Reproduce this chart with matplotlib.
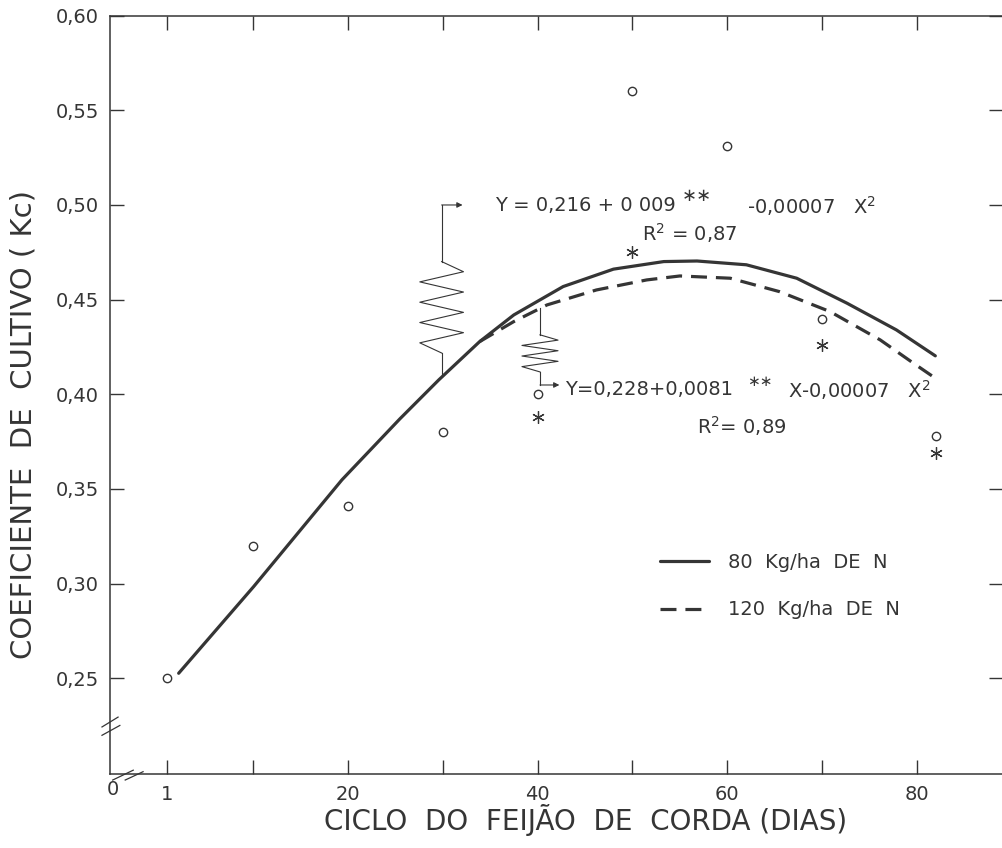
import numpy as np
import matplotlib.pyplot as plt

plt.rcParams['font.family'] = ['DejaVu Sans']
plt.rcParams['mathtext.fontset'] = 'dejavusans'

# pontos observados (dias, Kc)
dias_80 = [1, 10, 20, 30, 40, 50, 60, 70, 82]
kc_80 = [0.250, 0.320, 0.341, 0.380, 0.400, 0.560, 0.531, 0.440, 0.378]
dias_120 = [40, 50, 70, 82]
kc_120 = [0.388, 0.475, 0.426, 0.369]

# curvas ajustadas
curva_80_x = [2.2, 10.1, 19.4, 25.5, 29.6, 33.9, 37.5, 42.7, 48.0, 53.3, 56.8, 62.0, 67.3, 72.6, 77.8, 81.9]
curva_80_y = [0.2526, 0.2984, 0.3548, 0.3870, 0.4076, 0.4278, 0.4419, 0.4569, 0.4661, 0.4701, 0.4704,
              0.4684, 0.4613, 0.4481, 0.4340, 0.4203]
curva_120_x = [33.9, 37.5, 41.0, 46.2, 51.5, 55.0, 60.3, 65.5, 70.8, 76.1, 79.6, 81.9]
curva_120_y = [0.4278, 0.4384, 0.4472, 0.4551, 0.4604, 0.4625, 0.4613, 0.4542, 0.4437, 0.4287, 0.4164, 0.4085]

xticks = [1, 10, 20, 30, 40, 50, 60, 70, 80]
xticklabels = ['1', '', '20', '', '40', '', '60', '', '80']
yticks = [0.25, 0.30, 0.35, 0.40, 0.45, 0.50, 0.55, 0.60]
yticklabels = ['0,25', '0,30', '0,35', '0,40', '0,45', '0,50', '0,55', '0,60']

ink = '#353535'

fig = plt.figure(figsize=(10.03, 8.48), dpi=100)
ax = fig.add_axes([0.1097, 0.0873, 0.8903, 0.8942])
ax.set_xlim(-5.03, 89.03)
ax.set_ylim(0.1994, 0.60)

# curvas
ax.plot(curva_80_x, curva_80_y, color=ink, lw=2.3, solid_capstyle='round', label='80  Kg/ha  DE  N')
ax.plot(curva_120_x, curva_120_y, color=ink, lw=2.3, linestyle=(0, (5, 2.8)), label='120  Kg/ha  DE  N')

# pontos
ax.plot(dias_80, kc_80, 'o', ms=6, mfc='none', mec=ink, mew=1.0, zorder=3)
ax.plot(dias_120, kc_120, linestyle='none', marker=(6, 2, 0), ms=9, mec=ink, mew=0.9, zorder=3)

# molas (chaves) ligando equacoes as curvas
def mola(xc, y_top, y_bot, half_w, n):
    ys = np.linspace(y_top, y_bot, 2 * n + 2)
    xs = [xc]
    for i in range(2 * n):
        xs.append(xc + half_w if i % 2 == 0 else xc - half_w)
    xs.append(xc)
    ax.plot(xs, ys, color=ink, lw=0.8)

# mola 1 (80 kg)
ax.plot([29.9, 29.9], [0.500, 0.4701], color=ink, lw=0.8)
mola(29.9, 0.4701, 0.4218, 2.3, 4)
ax.plot([29.9, 29.9], [0.4218, 0.4095], color=ink, lw=0.8)
ax.annotate('', xy=(32.1, 0.500), xytext=(29.9, 0.500),
            arrowprops=dict(arrowstyle='-|>', color=ink, lw=0.8, mutation_scale=8, shrinkA=0, shrinkB=0))

# mola 2 (120 kg)
ax.plot([40.26, 40.26], [0.4455, 0.4314], color=ink, lw=0.8)
mola(40.26, 0.4314, 0.4118, 1.9, 3)
ax.plot([40.26, 40.26], [0.4118, 0.4049], color=ink, lw=0.8)
ax.annotate('', xy=(42.3, 0.4049), xytext=(40.26, 0.4049),
            arrowprops=dict(arrowstyle='-|>', color=ink, lw=0.8, mutation_scale=8, shrinkA=0, shrinkB=0))

# equacoes
fs = 14
ax.text(35.5, 0.4995, 'Y = 0,216 + 0 009', fontsize=fs, color=ink, va='center')
ax.text(55.2, 0.5048, '∗∗', fontsize=13, color=ink, va='center')
ax.text(62.1, 0.4995, '-0,00007   X$^{2}$', fontsize=fs, color=ink, va='center')
ax.text(51.0, 0.4852, 'R$^{2}$ = 0,87', fontsize=fs, color=ink, va='center')

ax.text(42.9, 0.4023, 'Y=0,228+0,0081', fontsize=fs, color=ink, va='center')
ax.text(62.1, 0.4068, '∗∗', fontsize=11, color=ink, va='center')
ax.text(66.4, 0.4023, 'X-0,00007   X$^{2}$', fontsize=fs, color=ink, va='center')
ax.text(56.8, 0.3833, 'R$^{2}$= 0,89', fontsize=fs, color=ink, va='center')

# legenda
leg = ax.legend(loc='center left', bbox_to_anchor=(0.605, 0.2475), frameon=False, fontsize=fs,
                handlelength=2.5, handletextpad=1.0, labelspacing=1.45, borderpad=0)
for t in leg.get_texts():
    t.set_color(ink)

# eixos
ax.set_xticks(xticks)
ax.set_xticklabels(xticklabels)
ax.set_yticks(yticks)
ax.set_yticklabels(yticklabels)
ax.tick_params(direction='in', length=10, width=1.0, color=ink, labelcolor=ink, labelsize=fs,
               top=True, right=True, pad=8)
for s in ['left', 'bottom', 'top']:
    ax.spines[s].set_color(ink)
    ax.spines[s].set_linewidth(1.1)
ax.spines['right'].set_visible(False)

ax.text(0.0035, -0.021, '0', transform=ax.transAxes, fontsize=fs, color=ink, ha='center', va='center')

# marcas de quebra dos eixos
br = dict(color=ink, lw=0.9, transform=ax.transAxes, clip_on=False)
ax.plot([-0.009, 0.009], [0.062, 0.075], **br)
ax.plot([-0.009, 0.011], [0.051, 0.064], **br)
ax.plot([0.003, 0.026], [-0.008, 0.005], **br)
ax.plot([0.017, 0.037], [-0.008, 0.003], **br)

ax.set_xlabel('CICLO  DO  FEIJÃO  DE  CORDA (DIAS)', fontsize=20, color=ink)
ax.xaxis.set_label_coords(0.5325, -0.040)
ax.set_ylabel('COEFICIENTE  DE  CULTIVO ( Kc)', fontsize=21, color=ink)
ax.yaxis.set_label_coords(-0.081, 0.461)

fig.savefig('out.png', dpi=100, facecolor='white')
